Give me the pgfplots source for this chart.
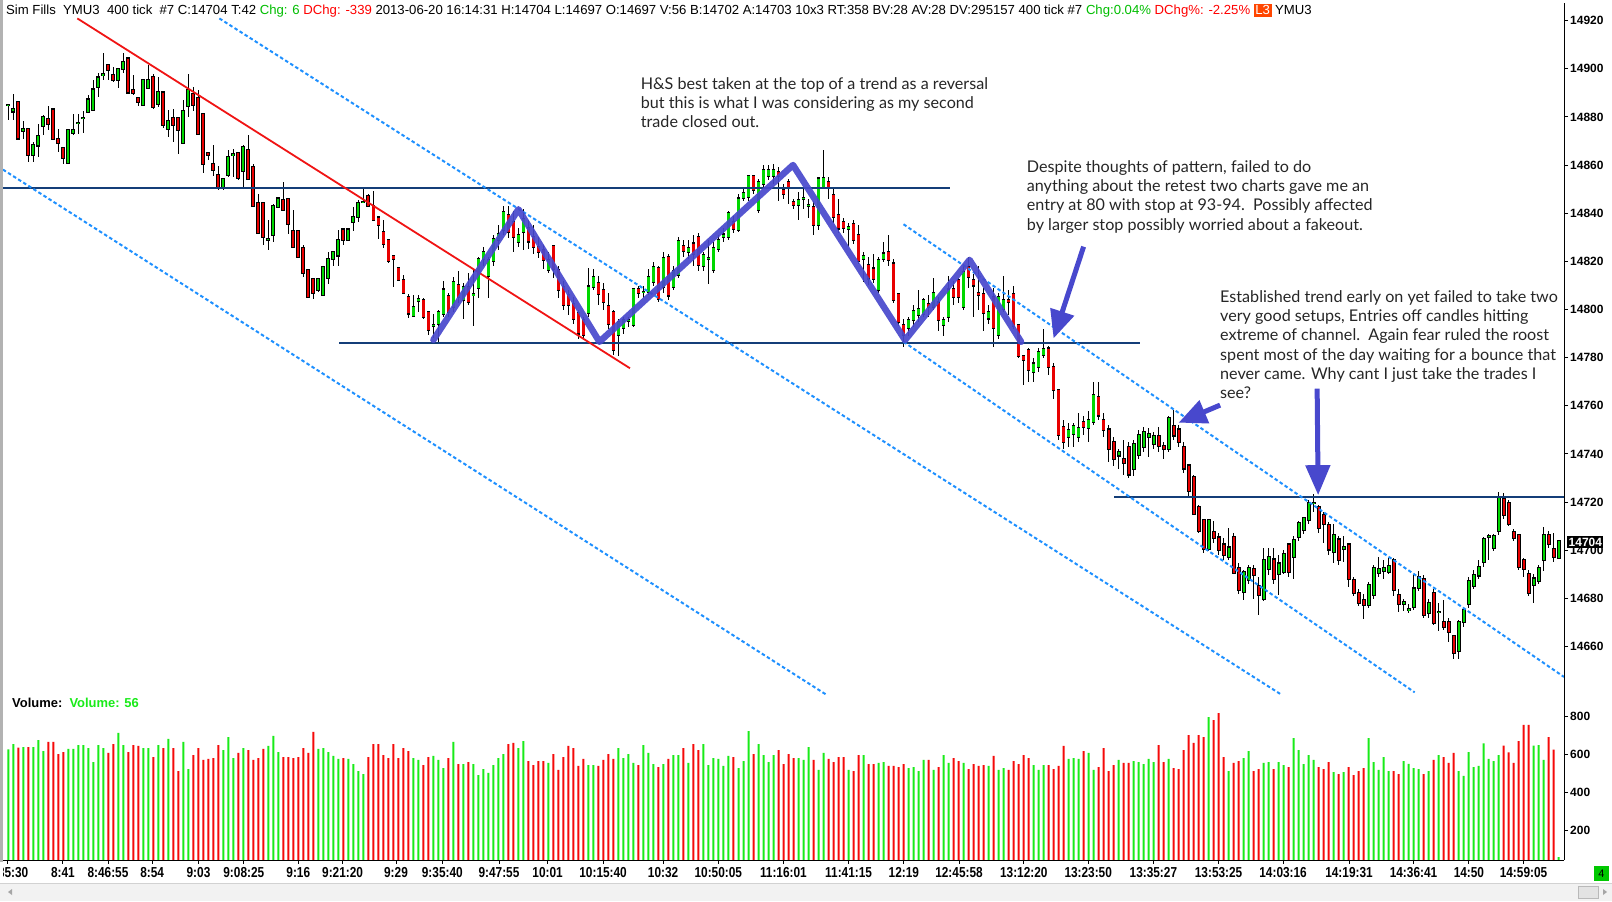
\documentclass[border=0pt]{standalone}
\usepackage{fontspec}
\usepackage{pgfplots}
\usepackage{pgfplotstable}
\pgfplotsset{compat=1.18}
\usetikzlibrary{arrows.meta}
\setmainfont{Liberation Sans}
\newfontfamily\hdrfont{Liberation Sans}
\newfontfamily\tfont[FakeStretch=0.82]{Liberation Sans}
\newfontfamily\annfont{Lato}
\definecolor{cgreen}{RGB}{0,215,0}
\definecolor{cred}{RGB}{232,0,0}
\definecolor{vgreen}{RGB}{25,235,25}
\definecolor{vred}{RGB}{245,10,10}
\definecolor{navy}{RGB}{20,62,120}
\definecolor{tred}{RGB}{240,20,20}
\definecolor{dblue}{RGB}{30,144,255}
\definecolor{zig}{RGB}{72,72,205}
\definecolor{hgreen}{RGB}{0,190,0}
\definecolor{l3}{RGB}{255,70,0}
\definecolor{boxgreen}{RGB}{0,200,0}

\pgfplotstableread{
o h l c v
14884.9 14885.3 14878.7 14885.1 627
14882.3 14889.5 14878.7 14883.2 655
14886.4 14886.4 14871.1 14871.1 636
14874.4 14878.3 14871.1 14875.2 639
14875.2 14875.2 14861.4 14864.4 639
14864.4 14869.7 14861.4 14868.3 639
14868.3 14877.3 14863.4 14872.2 676
14876.3 14880.7 14872.5 14880.1 618
14879.4 14884.5 14874.5 14877.3 666
14883.1 14883.1 14870.4 14870.8 666
14871.1 14875.2 14865.5 14869.4 602
14867.3 14867.3 14860.4 14863.2 613
14860.9 14875.2 14860.7 14874.5 629
14873.4 14881.4 14872.5 14874.5 629
14877.5 14881.4 14873.1 14877.7 650
14879.4 14882.5 14873.4 14879.6 650
14882.1 14889.1 14882.1 14887.3 634
14883.1 14895.3 14882.8 14891.4 560
14892.5 14898.1 14888.4 14896.4 650
14897.4 14906.4 14895.3 14898.1 634
14901.5 14902.2 14895.3 14899.4 608
14897.4 14900.8 14894.6 14895.3 655
14895.3 14900.1 14891.8 14900.1 714
14900.1 14906.4 14898.1 14902.9 650
14904.3 14904.3 14890.2 14890.2 613
14891.4 14897.4 14889.1 14890.2 650
14888.1 14888.1 14884.5 14886.3 645
14885.2 14895.3 14884.5 14895.3 634
14892.2 14901.5 14892.2 14895.3 634
14896.4 14898.1 14883.5 14884.2 586
14885.2 14896.4 14884.2 14890.2 650
14890.2 14890.2 14875.2 14876.6 634
14875.2 14882.8 14871.8 14878.4 682
14879.4 14883.1 14869.7 14876.6 634
14879.4 14879.4 14864.8 14874.5 512
14869.4 14887.0 14869.4 14882.4 666
14884.5 14898.1 14880.3 14891.1 523
14889.5 14892.5 14882.8 14885.2 597
14888.1 14891.1 14872.9 14872.9 634
14881.4 14881.4 14856.5 14860.4 571
14865.2 14865.2 14862.0 14864.4 576
14860.3 14868.3 14855.8 14858.2 581
14856.1 14859.6 14849.6 14850.6 650
14850.6 14854.5 14849.9 14854.5 623
14856.1 14866.2 14855.2 14863.2 692
14864.3 14866.9 14855.2 14864.5 581
14865.2 14865.2 14853.8 14854.5 608
14857.5 14868.3 14851.0 14867.3 634
14866.2 14872.4 14854.5 14854.5 623
14859.3 14860.4 14842.7 14843.1 571
14844.4 14848.2 14831.6 14832.0 581
14844.4 14844.4 14826.7 14830.2 629
14829.0 14837.2 14824.7 14829.2 645
14831.2 14844.1 14828.1 14843.1 698
14842.7 14846.1 14842.7 14846.1 613
14845.4 14853.1 14841.3 14841.3 586
14846.1 14846.1 14831.6 14835.5 586
14832.6 14841.3 14826.1 14826.1 581
14832.6 14832.6 14821.6 14821.9 586
14825.8 14826.7 14813.6 14815.3 634
14816.4 14816.4 14805.3 14805.3 608
14812.6 14812.6 14804.6 14807.0 719
14808.1 14812.6 14807.4 14812.6 629
14806.0 14817.5 14805.6 14817.5 634
14813.3 14824.0 14810.6 14820.9 613
14821.2 14824.0 14818.0 14824.0 592
14822.6 14833.3 14818.4 14829.1 576
14833.3 14833.7 14826.7 14829.1 581
14829.1 14833.3 14828.8 14833.3 576
14836.4 14842.7 14832.7 14838.3 549
14838.5 14845.7 14836.4 14844.4 512
14844.7 14851.0 14844.4 14844.9 496
14847.2 14847.9 14842.7 14843.0 586
14843.0 14849.3 14837.4 14837.4 655
14838.3 14838.3 14829.3 14835.3 655
14832.3 14837.1 14825.4 14827.4 597
14829.1 14829.1 14819.4 14820.2 581
14822.2 14822.6 14809.5 14821.2 655
14817.5 14817.5 14812.2 14812.5 581
14812.5 14814.3 14806.7 14807.1 634
14805.3 14806.7 14796.7 14798.4 618
14797.3 14806.0 14797.0 14801.1 581
14803.6 14806.0 14799.1 14804.5 571
14804.0 14805.0 14796.0 14797.0 544
14799.1 14799.1 14789.4 14791.5 586
14793.4 14798.0 14788.0 14793.6 592
14794.2 14800.0 14786.5 14799.1 571
14798.4 14812.0 14797.0 14808.4 528
14805.6 14807.0 14797.0 14799.1 581
14801.2 14813.5 14799.0 14811.5 666
14810.4 14816.0 14803.0 14805.3 549
14803.9 14811.0 14796.0 14809.5 549
14809.5 14815.0 14802.0 14803.2 560
14806.2 14816.4 14793.5 14806.4 549
14809.0 14822.0 14805.0 14821.2 491
14821.2 14826.0 14818.0 14824.0 523
14813.9 14822.0 14805.0 14820.5 502
14820.3 14831.0 14818.0 14829.5 544
14828.8 14835.0 14825.0 14831.3 581
14833.0 14843.2 14831.0 14840.6 602
14839.2 14843.0 14830.0 14832.3 655
14836.5 14841.0 14824.0 14830.2 661
14828.2 14834.0 14826.0 14831.2 634
14832.3 14842.0 14825.0 14837.8 671
14833.7 14837.0 14825.0 14828.2 565
14830.2 14835.0 14823.0 14826.1 544
14826.1 14830.0 14821.5 14824.0 565
14824.7 14827.0 14817.0 14820.5 565
14816.4 14824.0 14815.0 14820.5 555
14826.4 14827.0 14813.0 14817.1 602
14816.4 14818.0 14805.0 14808.1 518
14809.5 14812.0 14800.0 14801.9 586
14806.0 14808.0 14798.0 14801.9 645
14802.5 14805.0 14794.0 14796.3 634
14798.4 14800.0 14788.0 14790.1 539
14795.6 14797.0 14788.5 14789.4 576
14798.4 14817.5 14797.0 14809.5 544
14809.5 14817.0 14808.0 14813.6 544
14811.1 14814.0 14802.0 14806.4 539
14808.1 14811.0 14800.0 14803.2 571
14801.6 14807.0 14792.0 14794.2 602
14799.1 14800.0 14781.0 14783.4 576
14789.4 14796.0 14781.0 14794.9 634
14792.2 14797.0 14790.0 14795.6 581
14795.5 14797.0 14793.0 14795.7 602
14793.5 14809.0 14793.0 14808.4 555
14808.4 14810.0 14805.0 14807.1 544
14807.3 14810.0 14805.0 14807.5 650
14807.4 14817.0 14806.0 14813.6 608
14811.5 14820.0 14810.0 14817.8 549
14817.1 14818.0 14803.0 14804.6 533
14809.5 14824.0 14807.0 14821.5 549
14821.9 14823.0 14804.0 14806.0 576
14809.5 14818.0 14808.0 14816.1 597
14814.3 14830.0 14813.0 14828.4 597
14826.4 14829.0 14822.0 14824.3 634
14824.0 14829.0 14821.0 14825.8 555
14827.5 14831.0 14818.0 14823.3 655
14830.2 14832.0 14816.0 14818.5 623
14818.0 14824.0 14816.0 14822.6 655
14821.1 14829.0 14810.8 14821.3 544
14816.4 14828.0 14815.0 14825.4 581
14825.4 14831.0 14824.0 14829.1 576
14830.2 14834.0 14828.0 14831.3 539
14830.2 14841.0 14829.0 14840.2 592
14836.5 14839.0 14832.0 14833.7 586
14833.0 14848.0 14832.0 14846.2 528
14846.2 14851.0 14845.0 14848.5 565
14846.9 14856.0 14845.0 14855.4 724
14855.4 14856.0 14848.0 14849.6 602
14841.3 14854.0 14840.0 14853.1 655
14852.4 14860.0 14851.0 14857.9 597
14855.4 14860.0 14854.0 14858.2 560
14855.4 14860.3 14852.0 14858.2 597
14857.2 14859.0 14845.0 14855.4 623
14849.6 14852.0 14846.0 14848.2 549
14853.1 14854.0 14844.0 14851.0 602
14844.8 14846.0 14842.0 14843.4 581
14843.4 14849.0 14837.0 14845.5 581
14846.1 14850.0 14842.0 14846.3 571
14843.3 14846.0 14838.0 14843.5 639
14842.7 14845.0 14831.0 14835.1 571
14835.1 14855.0 14833.0 14854.5 518
14851.0 14866.2 14850.0 14854.5 608
14853.1 14855.0 14846.0 14850.3 576
14847.6 14851.0 14836.0 14838.5 560
14839.2 14846.0 14832.0 14833.7 586
14836.5 14838.0 14832.0 14834.1 586
14833.3 14836.0 14826.0 14834.1 518
14835.5 14837.0 14827.0 14829.1 512
14831.2 14835.0 14819.0 14820.5 597
14821.0 14824.0 14811.5 14822.5 597
14818.5 14822.0 14810.0 14812.9 549
14817.1 14823.0 14811.0 14812.9 549
14808.1 14822.0 14807.0 14820.5 555
14821.2 14828.0 14820.0 14823.3 560
14824.0 14831.0 14818.0 14820.5 539
14819.2 14821.0 14803.0 14804.2 539
14806.4 14807.0 14793.0 14794.9 533
14793.5 14796.0 14784.5 14789.4 549
14792.2 14797.0 14789.0 14795.6 528
14795.6 14802.0 14793.0 14799.5 533
14797.7 14808.0 14795.0 14800.4 512
14798.4 14805.0 14797.0 14804.2 571
14802.3 14806.0 14797.0 14801.2 571
14801.2 14813.0 14800.0 14807.0 518
14803.0 14805.0 14791.0 14795.6 533
14793.5 14797.0 14789.0 14795.6 597
14797.0 14814.0 14795.0 14808.4 555
14808.4 14812.0 14802.0 14805.3 581
14812.2 14813.0 14803.0 14805.3 565
14801.2 14819.0 14800.0 14815.7 555
14817.8 14822.0 14809.0 14813.6 523
14812.5 14815.0 14797.0 14810.1 549
14807.0 14818.0 14800.0 14806.0 539
14806.4 14809.0 14791.0 14798.4 544
14796.3 14802.0 14794.0 14799.1 539
14805.3 14809.0 14784.4 14792.2 592
14789.4 14807.0 14788.0 14805.3 518
14800.5 14814.0 14799.0 14804.2 528
14804.2 14808.0 14798.0 14803.2 518
14806.4 14810.0 14792.0 14793.5 565
14793.5 14794.0 14780.0 14780.6 549
14780.6 14781.0 14768.7 14779.0 597
14783.1 14784.0 14770.0 14774.8 581
14774.1 14780.0 14770.0 14777.6 544
14776.2 14784.0 14774.0 14782.4 518
14781.1 14792.0 14780.0 14783.8 544
14783.8 14785.0 14773.0 14776.2 544
14776.2 14778.0 14763.0 14766.5 523
14766.5 14767.0 14746.0 14747.8 539
14751.3 14754.0 14742.0 14745.1 645
14747.1 14753.0 14743.0 14750.2 576
14748.5 14753.0 14743.0 14751.6 581
14747.1 14757.0 14745.0 14751.0 576
14753.4 14756.0 14748.0 14751.3 618
14751.0 14758.0 14745.0 14754.3 608
14753.4 14770.0 14752.0 14764.4 518
14763.7 14770.0 14754.0 14756.1 533
14754.3 14757.0 14747.0 14750.2 634
14750.2 14752.0 14736.7 14742.3 512
14745.1 14747.0 14735.0 14738.1 544
14739.5 14742.0 14734.0 14740.9 571
14738.1 14746.0 14731.5 14736.3 555
14743.0 14745.0 14730.0 14731.6 555
14734.0 14746.0 14731.0 14744.4 565
14739.5 14750.0 14738.0 14747.8 560
14743.0 14751.0 14741.0 14749.2 549
14747.1 14751.0 14739.0 14748.2 576
14744.4 14749.0 14742.0 14747.4 560
14747.4 14751.0 14741.0 14743.3 650
14743.3 14745.0 14738.0 14742.3 560
14742.3 14756.0 14741.0 14754.8 576
14751.6 14758.5 14746.0 14747.8 528
14750.2 14752.0 14743.0 14745.1 523
14743.0 14745.0 14732.0 14734.0 623
14735.4 14736.0 14722.0 14725.0 703
14730.6 14731.5 14715.0 14715.3 661
14718.1 14719.0 14707.0 14708.1 703
14712.6 14713.0 14699.0 14700.8 692
14700.8 14713.0 14700.0 14712.6 798
14707.7 14712.0 14703.0 14705.4 782
14705.4 14707.0 14698.0 14700.4 819
14702.5 14705.0 14696.0 14698.3 586
14697.3 14709.5 14696.0 14701.2 512
14705.4 14707.0 14690.0 14690.7 555
14692.5 14695.0 14682.0 14683.5 565
14682.8 14692.0 14679.4 14691.1 581
14687.6 14694.0 14686.0 14692.5 618
14692.5 14694.0 14680.0 14689.7 512
14685.1 14689.0 14672.9 14681.4 523
14680.0 14701.0 14679.0 14696.2 555
14692.5 14701.0 14690.0 14697.3 560
14696.2 14701.0 14686.0 14688.3 523
14690.4 14698.0 14681.5 14694.6 560
14691.1 14700.0 14690.0 14698.3 544
14702.5 14703.0 14689.0 14691.1 533
14697.3 14706.0 14688.0 14704.5 687
14705.4 14712.0 14704.0 14711.2 623
14708.4 14714.0 14707.0 14713.3 549
14712.6 14721.0 14711.0 14719.8 597
14719.7 14723.4 14716.0 14719.9 571
14718.1 14719.0 14707.0 14709.5 533
14714.7 14716.0 14703.0 14711.2 523
14710.5 14712.0 14698.0 14700.4 560
14699.4 14711.0 14695.0 14706.3 507
14704.5 14706.0 14694.0 14696.2 496
14700.4 14706.0 14695.0 14701.2 507
14702.5 14703.0 14685.0 14688.3 533
14687.6 14689.0 14681.0 14682.4 491
14682.4 14684.0 14677.0 14678.2 512
14679.3 14682.0 14671.7 14677.5 528
14677.5 14687.0 14676.0 14685.6 687
14681.4 14694.0 14680.0 14692.5 560
14690.7 14697.3 14689.0 14692.5 518
14691.5 14696.0 14688.0 14692.5 586
14691.1 14697.0 14690.0 14693.5 512
14696.0 14697.0 14681.0 14683.5 512
14681.4 14684.0 14674.5 14677.7 496
14677.7 14680.0 14675.0 14678.6 565
14675.4 14678.0 14674.0 14675.6 550
14676.6 14690.0 14675.0 14684.2 528
14684.2 14691.5 14683.0 14689.0 523
14688.3 14689.6 14672.0 14673.1 496
14674.1 14680.0 14672.0 14678.2 512
14682.4 14684.0 14669.0 14669.9 571
14674.4 14678.0 14666.5 14674.6 597
14670.3 14679.4 14667.0 14668.3 586
14670.3 14672.0 14661.8 14666.2 555
14664.4 14665.0 14655.0 14657.4 608
14658.3 14671.0 14654.7 14670.3 512
14670.3 14676.0 14668.0 14675.2 486
14677.7 14689.0 14676.0 14687.4 613
14685.1 14692.0 14684.0 14689.7 533
14689.7 14696.0 14688.0 14693.2 539
14695.3 14705.5 14693.0 14704.5 659
14705.8 14707.0 14696.0 14706.0 576
14701.2 14707.0 14700.0 14705.9 565
14708.1 14724.5 14706.5 14721.6 597
14721.6 14723.7 14713.0 14714.7 647
14719.8 14721.0 14710.0 14711.2 611
14707.7 14709.0 14704.0 14705.4 556
14706.3 14707.0 14692.0 14693.2 671
14696.2 14697.0 14689.0 14692.5 756
14690.4 14692.0 14681.0 14682.4 756
14685.6 14690.0 14678.0 14688.3 647
14687.4 14694.0 14686.0 14692.5 650
14696.2 14709.5 14691.5 14706.3 571
14706.3 14708.0 14701.0 14702.6 692
14700.4 14707.0 14695.0 14697.3 626
14697.0 14704.0 14697.0 14704.0 56
}\candles

\begin{document}
\begin{tikzpicture}[x=1bp,y=1bp]
\useasboundingbox (0,0) rectangle (1612,901);
\fill[white] (0,0) rectangle (1612,901);

% ---------------- price panel ----------------
\begin{axis}[
  at={(3bp,206bp)}, anchor=south west, scale only axis,
  width=1561bp, height=692bp,
  xmin=-1.06, xmax=311.06, ymin=14639.9, ymax=14927.31,
  axis line style={draw=none},
  xtick=\empty,
  ytick pos=right, yticklabel pos=right,
  ytick={14660,14680,14700,14720,14740,14760,14780,14800,14820,14840,14860,14880,14900,14920},
  yticklabels={14660,14680,14700,14720,14740,14760,14780,14800,14820,14840,14860,14880,14900,14920},
  tick align=outside, major tick length=4bp,
  tick style={black, line width=1bp},
  yticklabel style={font=\bfseries\fontsize{12}{14}\selectfont, anchor=west, inner sep=0pt, xshift=2bp},
]
% wicks
\addplot[draw=none, mark=none, error bars/.cd, y dir=both, y explicit, error mark=none,
  error bar style={draw=black, line width=1bp}]
  table[x expr=\coordindex, y expr={(\thisrow{h}+\thisrow{l})/2}, y error expr={(\thisrow{h}-\thisrow{l})/2}] {\candles};
% body outlines
\addplot[draw=none, mark=none, error bars/.cd, y dir=both, y explicit, error mark=none,
  error bar style={draw=black, line width=3.8bp}]
  table[x expr=\coordindex, y expr={(\thisrow{o}+\thisrow{c})/2}, y error expr={abs(\thisrow{c}-\thisrow{o})/2+0.45}] {\candles};
% green bodies
\addplot[draw=none, mark=none, restrict expr to domain={\thisrow{c}-\thisrow{o}}{0:1000},
  error bars/.cd, y dir=both, y explicit, error mark=none,
  error bar style={draw=cgreen, line width=2.2bp}]
  table[x expr=\coordindex, y expr={(\thisrow{o}+\thisrow{c})/2}, y error expr={abs(\thisrow{c}-\thisrow{o})/2}] {\candles};
% red bodies
\addplot[draw=none, mark=none, restrict expr to domain={\thisrow{c}-\thisrow{o}}{-1000:0},
  error bars/.cd, y dir=both, y explicit, error mark=none,
  error bar style={draw=cred, line width=2.2bp}]
  table[x expr=\coordindex, y expr={(\thisrow{o}+\thisrow{c})/2}, y error expr={abs(\thisrow{c}-\thisrow{o})/2}] {\candles};

% horizontal levels
\addplot[navy, line width=2bp] coordinates {(-1.06,14850.5) (188.2,14850.5)};
\addplot[navy, line width=2bp] coordinates {(66.2,14786) (226.3,14786)};
\addplot[navy, line width=2bp] coordinates {(221.1,14722) (311.06,14722)};
% red trend line
\addplot[tred, line width=1.8bp] coordinates {(13.8,14920.9) (124.3,14775.6)};
% dashed channels
\addplot[dblue, line width=2bp, dash pattern=on 3.5bp off 2.5bp] coordinates {(-1.06,14858.1) (163.5,14640.1)};
\addplot[dblue, line width=2bp, dash pattern=on 3.5bp off 2.5bp] coordinates {(42.2,14920.9) (254.5,14640.1)};
\addplot[dblue, line width=2bp, dash pattern=on 3.5bp off 2.5bp] coordinates {(179,14835.4) (311.06,14647.4)};
\addplot[dblue, line width=2bp, dash pattern=on 3.5bp off 2.5bp] coordinates {(179,14786.6) (281.2,14641.0)};
% zigzag pattern
\addplot[zig, line width=6.5bp, opacity=0.92, line join=round, line cap=round] coordinates {
  (85.0,14787.4) (102,14841.6) (118.2,14786.6) (156.9,14860.0) (179.3,14787.3) (192.2,14820.6) (202.5,14786.6)};
% arrows
\draw[zig, line width=5bp, -{Triangle[width=24bp,length=28bp]}] (axis cs:215.0,14826.1) -- (axis cs:209.0,14788.0);
\draw[zig, line width=5bp, -{Triangle[width=24bp,length=28bp]}] (axis cs:242.3,14760.3) -- (axis cs:234.0,14753.0);
\draw[zig, line width=5bp, -{Triangle[width=24bp,length=30bp]}] (axis cs:261.7,14767.1) -- (axis cs:261.9,14722.9);
\end{axis}

% ---------------- volume panel ----------------
\begin{axis}[
  at={(3bp,41bp)}, anchor=south west, scale only axis,
  width=1561bp, height=165bp,
  xmin=-1.06, xmax=311.06, ymin=41.3, ymax=914.8,
  axis line style={draw=none},
  xtick=\empty,
  ytick pos=right, yticklabel pos=right,
  ytick={200,400,600,800}, yticklabels={200,400,600,800},
  tick align=outside, major tick length=4bp,
  tick style={black, line width=1bp},
  yticklabel style={font=\bfseries\fontsize{12}{14}\selectfont, anchor=west, inner sep=0pt, xshift=2bp},
]
\addplot[ybar, bar width=2bp, bar shift=0pt, fill=vgreen, draw=none,
  restrict expr to domain={\thisrow{c}-\thisrow{o}}{0:1000}]
  table[x expr=\coordindex, y=v] {\candles};
\addplot[ybar, bar width=2bp, bar shift=0pt, fill=vred, draw=none,
  restrict expr to domain={\thisrow{c}-\thisrow{o}}{-1000:0}]
  table[x expr=\coordindex, y=v] {\candles};
\end{axis}

% frame lines
\draw[black, line width=1bp] (1564,41) -- (1564,898);
\draw[black, line width=1bp] (3,41) -- (1564,41);
\draw[gray!60, line width=2.5bp] (1.25,39) -- (1.25,901);

% header
\node[anchor=base west, inner sep=0pt, font=\hdrfont\fontsize{13.2}{15}\selectfont] at (6,886)
 {Sim Fills~~YMU3~~400 tick~~\#7 C:14704 T:42 \textcolor{hgreen}{Chg: 6} \textcolor{red}{DChg: -339} 2013-06-20 16:14:31 H:14704 L:14697 O:14697 V:56 B:14702 A:14703 10x3 RT:358 BV:28 AV:28 DV:295157 400 tick \#7 \textcolor{hgreen}{Chg:0.04\%} \textcolor{red}{DChg\%: -2.25\%} {\setlength\fboxsep{1.5bp}\colorbox{l3}{\textcolor{white}{L3}}} YMU3};

% volume label
\node[anchor=base west, inner sep=0pt, font=\bfseries\fontsize{13}{15}\selectfont] at (12,193)
 {Volume:~~\textcolor{vgreen}{Volume: 56}};

% annotations
\begin{scope}[every node/.style={anchor=base west, inner sep=0pt, font=\annfont\fontsize{16.2}{19}\selectfont, text=black!85}]
\node at (640.7,811.5) {H\&S best taken at the top of a trend as a reversal};
\node at (640.7,792.2) {but this is what I was considering as my second};
\node at (640.7,773.0) {trade closed out.};
\node at (1026.7,728.5) {Despite thoughts of pattern, failed to do};
\node at (1026.7,709.3) {anything about the retest two charts gave me an};
\node at (1026.7,690.1) {entry at 80 with stop at 93-94.~~Possibly affected};
\node at (1026.7,670.9) {by larger stop possibly worried about a fakeout.};
\node at (1220,598.5) {Established trend early on yet failed to take two};
\node at (1220,579.3) {very good setups, Entries off candles hitting};
\node at (1220,560.1) {extreme of channel.~~Again fear ruled the roost};
\node at (1220,540.9) {spent most of the day waiting for a bounce that};
\node at (1220,521.7) {never came. Why cant I just take the trades I};
\node at (1220,502.5) {see?};
\end{scope}

% current price box
\node[anchor=west, fill=black, text=white, inner sep=1.5bp, font=\bfseries\fontsize{12}{14}\selectfont] at (1567,359) {14704};

% time axis labels
\begin{scope}
\clip (3,0) rectangle (1564,41);
\foreach \xx/\lab in {7.9/8:35:30, 62.9/8:41, 108/8:46:55, 152.2/8:54, 198.5/9:03, 243.8/9:08:25, 298.3/9:16, 342.6/9:21:20, 396/9:29, 442.3/9:35:40, 499/9:47:55, 547.6/10:01, 603.1/10:15:40, 663.1/10:32, 718.3/10:50:05, 783.4/11:16:01, 848.6/11:41:15, 903.8/12:19, 959/12:45:58, 1023.8/13:12:20, 1088.2/13:23:50, 1153.4/13:35:27, 1218.6/13:53:25, 1283.1/14:03:16, 1349/14:19:31, 1413.5/14:36:41, 1468.9/14:50, 1523.5/14:59:05}
{
  \draw[black, line width=1bp] (\xx,41) -- (\xx,37);
  \node[inner sep=0pt, font=\tfont\bfseries\fontsize{14.5}{16}\selectfont] at (\xx,28) {\lab};
}
\end{scope}

% green box
\node[fill=boxgreen, minimum width=15bp, minimum height=15bp, inner sep=0pt, font=\fontsize{11}{13}\selectfont] at (1601.5,27.5) {4};

% scrollbar
\fill[gray!10] (0,0) rectangle (1612,18);
\draw[gray!35, line width=0.8bp] (0,18) -- (1612,18);
\fill[gray!70] (8,9) -- (12,12) -- (12,6) -- cycle;
\fill[gray!22] (1578,3) rectangle (1598,15);
\draw[gray!55, line width=0.6bp] (1578,3) rectangle (1598,15);
\fill[gray!70] (1607,9) -- (1603,12) -- (1603,6) -- cycle;
\end{tikzpicture}
\end{document}
